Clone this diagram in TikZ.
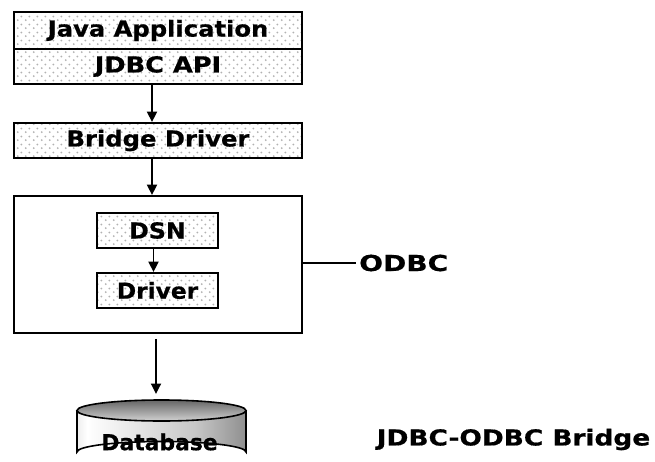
\documentclass[tikz,border=0pt]{standalone}
\usepackage{fontspec}
\usepackage{graphicx}
\setmainfont{DejaVu Sans}
\newfontfamily\lblfont[FakeStretch=1.08,FakeBold=0.6]{DejaVu Sans Bold}
\usetikzlibrary{arrows.meta,patterns.meta}

% widen a label by the given factor
\newcommand{\wlbl}[2]{\scalebox{#1}[1]{#2}}

\tikzdeclarepattern{
  name=softdots, type=uncolored,
  bounding box={(0pt,0pt) and (8pt,8pt)},
  tile size={(8pt,8pt)},
  code={
    \fill (2pt,2pt) circle (1.1pt);
    \fill (6pt,6pt) circle (1.1pt);
  }
}

\pgfdeclarehorizontalshading{dbbody}{100bp}{
  color(0bp)=(black!62);
  color(28bp)=(white);
  color(60bp)=(black!22);
  color(100bp)=(black!80)}

\tikzset{
  lbl/.style={font=\lblfont\fontsize{22}{22}\selectfont},
  dotbox/.style={draw, line width=1.9pt, preaction={fill=white},
    pattern=softdots, pattern color=black!30, inner sep=0pt, lbl},
  plainbox/.style={draw, line width=1.9pt, fill=white, inner sep=0pt},
  arr/.style={line width=1.8pt, -{Triangle[length=10.5pt,width=10pt]}},
}

\begin{document}
\begin{tikzpicture}[x=1pt,y=-1pt]
  \useasboundingbox (0,0) rectangle (655,462);

  % client side stack
  \node[dotbox, minimum width=288pt, minimum height=37pt] (app) at (158,30.5) {\wlbl{1.02}{Java Application}};
  \node[dotbox, minimum width=288pt, minimum height=35pt] (api) at (158,66.5) {\wlbl{1.08}{JDBC API}};
  \node[dotbox, minimum width=288pt, minimum height=35pt] (bridge) at (158,140.5) {\wlbl{1.02}{Bridge Driver}};

  % ODBC layer
  \node[plainbox, minimum width=288pt, minimum height=137pt] (odbc) at (158,264.5) {};
  \node[dotbox, minimum width=121pt, minimum height=35pt] (dsn) at (157.5,230.5) {DSN};
  \node[dotbox, minimum width=121pt, minimum height=35pt] (drv) at (157.5,290.5) {\wlbl{0.98}{Driver}};
  \node[lbl, anchor=west, inner sep=0pt] (odbclbl) at (359,263) {\wlbl{1.18}{ODBC}};
  \draw[line width=1.1pt] (odbc.east |- odbclbl.west) -- ([xshift=-3pt]odbclbl.west);

  % database cylinder
  \coordinate (dbtop) at (161.5,400);
  \shade[shading=dbbody] (77,410.5) -- (77,452) arc[start angle=180, end angle=360, x radius=84.5, y radius=10.5] -- (246,410.5) -- cycle;
  \shade[top color=black!60, bottom color=black!18] (161.5,410.5) ellipse[x radius=84.5, y radius=10.5];
  \draw[line width=1.6pt] (161.5,410.5) ellipse[x radius=84.5, y radius=10.5];
  \draw[line width=1.6pt] (77,410.5) -- (77,452) arc[start angle=180, end angle=360, x radius=84.5, y radius=10.5] -- (246,410.5);
  \node[lbl, inner sep=0pt] (db) at (159.5,442) {\wlbl{0.92}{Database}};

  \node[lbl, inner sep=0pt] (title) at (513.5,439.5) {\wlbl{1.11}{JDBC-ODBC Bridge}};

  % connectors
  \draw[arr] ([xshift=-6pt]api.south) -- ([xshift=-6pt]bridge.north);
  \draw[arr] ([xshift=-6pt]bridge.south) -- ([xshift=-6pt]odbc.north);
  \draw[arr] ([xshift=-4pt]dsn.south) -- ([xshift=-4pt]drv.north);
  \coordinate (dbstart) at ([xshift=-2pt,yshift=-5pt]odbc.south);
  \coordinate (dbend) at (dbstart |- 0,394);
  \draw[arr] (dbstart) -- (dbend);
\end{tikzpicture}
\end{document}
